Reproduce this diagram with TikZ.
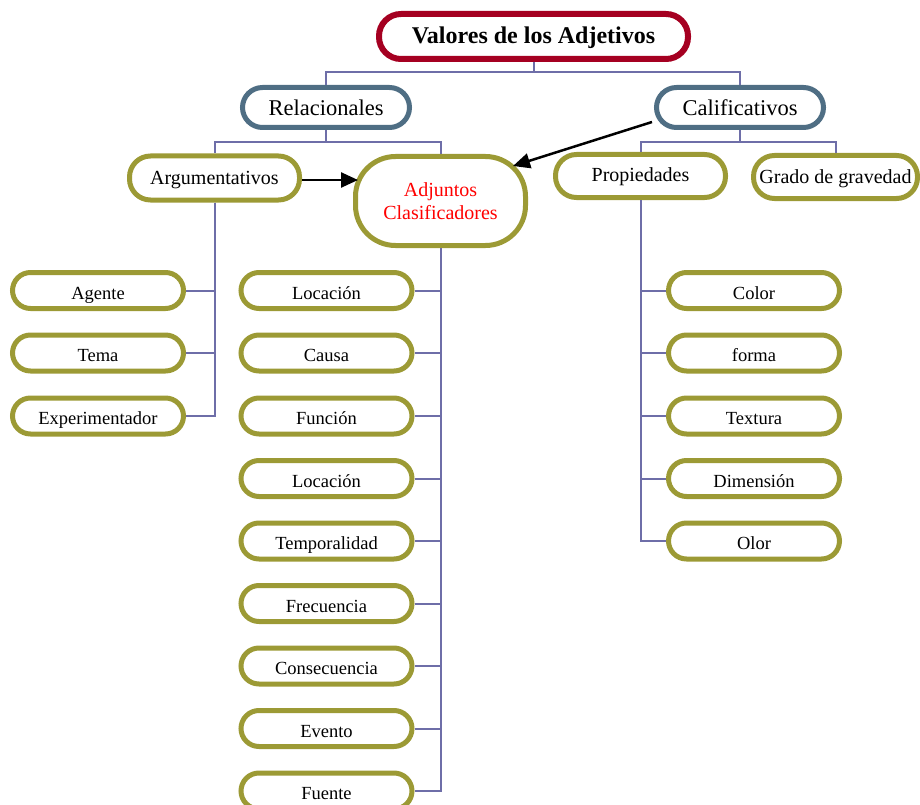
\documentclass[tikz,border=0pt]{standalone}
\usepackage{fontspec}
\setmainfont{Liberation Serif}
\usepackage{tikz}
\usetikzlibrary{arrows.meta}

\definecolor{rojoT}{HTML}{A50021}
\definecolor{azulG}{HTML}{4F6E84}
\definecolor{oliva}{HTML}{9C9A35}
\definecolor{lineaV}{HTML}{6E6EA8}

\begin{document}
\begin{tikzpicture}[x=1pt, y=-1pt,
  titulo/.style={draw=rojoT, fill=white, line width=6pt, rounded corners=22pt, minimum width=309pt, minimum height=45pt, inner sep=0pt, text height=17pt, text depth=2pt, font=\fontsize{24}{28}\selectfont\bfseries},
  grupo/.style={draw=azulG, fill=white, line width=5pt, rounded corners=20pt, minimum width=167pt, minimum height=40pt, inner sep=0pt, text height=19pt, text depth=2pt, font=\fontsize{22.5}{26}\selectfont},
  clase/.style={draw=oliva, fill=white, line width=5pt, rounded corners=21pt, minimum width=170pt, minimum height=44pt, inner sep=0pt, text height=16pt, text depth=2pt, font=\fontsize{20}{23}\selectfont},
  hoja/.style={draw=oliva, fill=white, line width=5pt, rounded corners=18pt, minimum width=171pt, minimum height=36pt, inner sep=0pt, text height=18pt, text depth=1pt, font=\fontsize{18.5}{21}\selectfont},
  rama/.style={draw=lineaV, line width=2pt},
  flecha/.style={draw=black, line width=2.5pt, -{Triangle[length=17pt,width=15pt]}}]
\useasboundingbox (0,0) rectangle (920,805);
\clip (0,0) rectangle (920,805);

\node[titulo] (valores) at (533.5,36.5) {Valores de los Adjetivos};

\node[grupo] (rel) at (326,107.5) {Relacionales};
\node[grupo] (cal) at (740,107.5) {Calificativos};

\node[clase] (arg) at (214.5,178) {Argumentativos};
\node[clase, minimum height=89pt, rounded corners=40pt, text=red, align=center, text height=, text depth=] (adj) at (440.5,201) {Adjuntos\\Clasificadores};
\node[clase, minimum height=43pt, text height=14pt] (prop) at (640.5,176) {Propiedades};
\node[clase, minimum width=164pt, minimum height=43pt, text height=14pt] (grado) at (835.5,177) {Grado de gravedad};

\node[hoja] (agente) at (98,290.5) {Agente};
\node[hoja] (tema) at (98,353) {Tema};
\node[hoja] (exper) at (98,416) {Experimentador};

\node[hoja] (loc1) at (326.5,290.5) {Locación};
\node[hoja] (causa) at (326.5,353) {Causa};
\node[hoja] (funcion) at (326.5,416) {Función};
\node[hoja] (loc2) at (326.5,478.5) {Locación};
\node[hoja] (temp) at (326.5,541) {Temporalidad};
\node[hoja] (frec) at (326.5,603.5) {Frecuencia};
\node[hoja] (conse) at (326.5,666) {Consecuencia};
\node[hoja] (evento) at (326.5,728.5) {Evento};
\node[hoja] (fuente) at (326.5,791) {Fuente};

\node[hoja] (color) at (754,290.5) {Color};
\node[hoja] (forma) at (754,353) {forma};
\node[hoja] (textura) at (754,416) {Textura};
\node[hoja] (dimen) at (754,478.5) {Dimensión};
\node[hoja] (olor) at (754,541) {Olor};

\draw[rama] (valores.south) -- ++(0,10) -| (rel.north);
\draw[rama] (valores.south) -- ++(0,10) -| (cal.north);
\draw[rama] (rel.south) -- ++(0,12) -| (arg.north);
\draw[rama] (rel.south) -- ++(0,12) -| (adj.north);
\draw[rama] (cal.south) -- ++(0,12) -| (prop.north);
\draw[rama] (cal.south) -- ++(0,12) -| (grado.north);

\draw[rama] (arg.south) |- (agente.east);
\draw[rama] (arg.south) |- (tema.east);
\draw[rama] (arg.south) |- (exper.east);

\draw[rama] (adj.south) |- (loc1.east);
\draw[rama] (adj.south) |- (causa.east);
\draw[rama] (adj.south) |- (funcion.east);
\draw[rama] (adj.south) |- (loc2.east);
\draw[rama] (adj.south) |- (temp.east);
\draw[rama] (adj.south) |- (frec.east);
\draw[rama] (adj.south) |- (conse.east);
\draw[rama] (adj.south) |- (evento.east);
\draw[rama] (adj.south) |- (fuente.east);

\draw[rama] (prop.south) |- (color.west);
\draw[rama] (prop.south) |- (forma.west);
\draw[rama] (prop.south) |- (textura.west);
\draw[rama] (prop.south) |- (dimen.west);
\draw[rama] (prop.south) |- (olor.west);

\draw[flecha, shorten >=-5pt] ([yshift=-2pt]arg.east) -- ([yshift=-2pt]arg.east -| adj.west);
\draw[flecha] ([xshift=-2pt,yshift=8pt]cal.south west) -- ([xshift=-15pt,yshift=-12pt]adj.north east);
\end{tikzpicture}
\end{document}
